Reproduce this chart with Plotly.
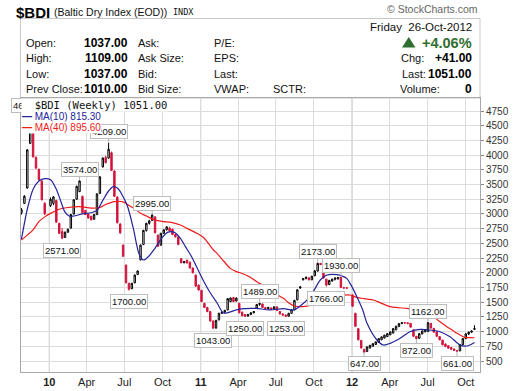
import numpy as np
import pandas as pd
import plotly.graph_objects as go

# ---------------- data ----------------
FIRST_WEEK = "2009-10-26"
LAST_WEEK = "2012-10-22"
HOLIDAY_WEEKS = ["2009-12-28", "2011-12-26"]

open_ = [3020, 3180, 3440, 4200, 4450, 3960, 3760, 3560, 3180,
         3140, 3180, 3230, 2840, 2700, 2600, 2690, 2760, 3000, 3250, 3380, 3300, 3060, 3000, 2960, 2910,
         2990, 3350, 3800, 3960, 3950, 4040, 3730, 3290, 2830, 2470, 2130, 1820, 1730, 1830, 1970, 2220,
         2480, 2720, 2840, 2890, 2950, 2640, 2470, 2670, 2730, 2760, 2740, 2650, 2610, 2240, 2170, 2215,
         2180, 2080, 1960, 1790,
         1700, 1480, 1410, 1340, 1180, 1060, 1200, 1310, 1330, 1370, 1510, 1580, 1520, 1480, 1330, 1290,
         1265, 1290, 1320, 1400, 1460, 1470, 1410, 1390, 1400, 1385, 1420, 1340, 1300, 1280, 1260, 1310,
         1370, 1540, 1740, 1880, 1900, 1910, 1880, 1950, 2030, 2160, 2100, 1890, 1800, 1860, 1890, 1900,
         1925, 1740, 1745,
         1624, 1310, 1050, 850, 700, 660, 720, 750, 780, 815, 860, 890, 915, 945, 975, 1030, 1085, 1135,
         1155, 1150, 1140, 1030, 920, 885, 960, 995, 1000, 1140, 1055, 995, 915, 855, 790, 760, 730, 705,
         680, 672, 780, 880, 960, 990, 1037]
high = [3100, 3320, 4100, 4661, 4480, 3980, 3770, 3570, 3200,
        3280, 3300, 3240, 2850, 2760, 2700, 2750, 3000, 3250, 3480, 3574, 3310, 3070, 3010, 2970, 3000,
        3350, 3640, 3960, 3990, 4209, 4060, 3740, 3300, 2840, 2480, 2140, 1830, 1830, 1970, 2040, 2480,
        2730, 2850, 2900, 2995, 2960, 2650, 2680, 2740, 2790, 2780, 2750, 2660, 2620, 2250, 2200, 2220,
        2190, 2090, 1970, 1800,
        1710, 1490, 1420, 1345, 1190, 1200, 1320, 1340, 1370, 1570, 1580, 1590, 1580, 1490, 1340, 1300,
        1300, 1330, 1345, 1470, 1489, 1475, 1420, 1420, 1410, 1430, 1430, 1350, 1310, 1290, 1320, 1380,
        1540, 1720, 1770, 1910, 1940, 1930, 1950, 2050, 2173, 2165, 2110, 1900, 1880, 1900, 1920, 1925,
        1930, 1760, 1750,
        1630, 1320, 1060, 855, 705, 745, 775, 800, 830, 890, 915, 945, 975, 1000, 1060, 1100, 1145, 1160,
        1160, 1155, 1145, 1035, 925, 975, 1020, 1040, 1162, 1145, 1060, 1000, 920, 860, 795, 765, 735, 710,
        685, 790, 890, 975, 1000, 1020, 1109]
low = [2990, 3170, 3430, 4190, 3960, 3760, 3570, 3230, 2980,
       3120, 3150, 2850, 2660, 2571, 2590, 2680, 2750, 2990, 3240, 3370, 3010, 2980, 2920, 2890, 2900,
       2980, 3340, 3790, 3860, 3940, 3730, 3290, 2840, 2660, 2270, 1820, 1700, 1720, 1820, 1960, 2210,
       2470, 2700, 2820, 2880, 2670, 2440, 2460, 2660, 2720, 2700, 2640, 2600, 2470, 2160, 2160, 2160,
       2075, 1990, 1760, 1700,
       1500, 1400, 1330, 1170, 1043, 1050, 1190, 1300, 1320, 1360, 1500, 1500, 1510, 1310, 1260, 1250,
       1255, 1280, 1310, 1390, 1440, 1400, 1380, 1380, 1370, 1380, 1350, 1290, 1270, 1253, 1255, 1300,
       1360, 1530, 1730, 1870, 1890, 1870, 1875, 1940, 2020, 2130, 1900, 1766, 1790, 1850, 1870, 1880,
       1740, 1730, 1730,
       1420, 1080, 850, 715, 647, 655, 715, 745, 775, 810, 855, 885, 910, 940, 970, 1025, 1080, 1130,
       1140, 1130, 1070, 910, 872, 880, 955, 990, 995, 1050, 980, 910, 855, 770, 740, 712, 695, 675,
       661, 668, 770, 875, 940, 980, 1037]
close = [3070, 3300, 4090, 4520, 3970, 3780, 3580, 3240, 3005,
         3250, 3290, 2860, 2670, 2590, 2690, 2740, 2990, 3240, 3470, 3560, 3020, 2990, 2930, 2900, 2990,
         3340, 3630, 3950, 3870, 4100, 3740, 3300, 2850, 2680, 2280, 1830, 1720, 1820, 1960, 2030, 2470,
         2720, 2840, 2880, 2980, 2680, 2450, 2670, 2730, 2780, 2710, 2650, 2610, 2480, 2170, 2190, 2165,
         2080, 2000, 1773, 1707,
         1510, 1410, 1340, 1180, 1060, 1190, 1310, 1330, 1360, 1560, 1570, 1510, 1570, 1320, 1270, 1260,
         1290, 1320, 1340, 1460, 1480, 1410, 1390, 1410, 1380, 1420, 1360, 1300, 1280, 1260, 1310, 1370,
         1530, 1710, 1760, 1900, 1920, 1880, 1940, 2030, 2160, 2140, 1910, 1790, 1870, 1890, 1910, 1920,
         1750, 1745, 1738,
         1430, 1090, 860, 720, 650, 740, 765, 795, 825, 880, 910, 940, 965, 995, 1050, 1090, 1135, 1150,
         1145, 1135, 1075, 920, 880, 965, 1010, 1035, 1150, 1060, 990, 920, 860, 775, 745, 718, 700, 680,
         665, 780, 880, 960, 990, 1010, 1051]

# moving averages (weeks since first bar, value)
ma10_week = [0, 2, 4, 6, 8, 10, 12, 13.5, 15, 16.5, 18, 21, 24, 26, 28, 30, 31.6, 33, 34.5, 36.5, 38.5,
             40.5, 42, 44, 46, 48.5, 50.5, 52.5, 54.5, 56.5, 58.5, 60.5, 62.7, 65, 67.3, 69.6, 71.9, 74,
             76.5, 79, 81, 85.6, 90.2, 93.7, 96, 99.4, 102.9, 105.2, 108.6, 110.6, 112, 113.5, 115.5,
             117.5, 119, 122.4, 124.6, 127, 130.4, 133.8, 137.3, 140.7, 144.1, 147.6, 151, 153.4, 156]
ma10_val = [2570, 3080, 3420, 3560, 3600, 3580, 3420, 3220, 3030, 2960, 2965, 3000, 3020, 3060, 3230,
            3390, 3465, 3440, 3340, 3130, 2760, 2320, 2217, 2290, 2420, 2600, 2690, 2690, 2600, 2440,
            2280, 2080, 1860, 1660, 1490, 1315, 1335, 1370, 1390, 1395, 1395, 1368, 1392, 1367, 1435,
            1593, 1877, 1962, 1968, 1940, 1905, 1790, 1594, 1370, 1140, 857, 772, 800, 885, 998, 1038,
            1027, 998, 913, 772, 755, 815.3]
ma40_week = [0, 2, 4, 6, 8, 10, 13, 16, 20, 24, 27, 29, 32, 35, 37.5, 39.5, 41, 43.2, 45.5, 48.9, 51.2,
             54.7, 57, 60.4, 62.7, 66.1, 67.3, 69.6, 71.9, 74, 76.5, 78.8, 81, 83.3, 85.6, 88, 90.2, 92,
             93.7, 95.5, 97.1, 99.4, 101.7, 104, 106.3, 109.7, 113.2, 115.5, 118, 121.2, 124, 127, 130,
             132.7, 135.5, 138.4, 140.2, 141.9, 144, 146.5, 148.2, 150, 151.5, 152.8, 154.4, 156]
ma40_val = [2557, 2640, 2730, 2870, 2950, 3010, 3080, 3110, 3125, 3100, 3110, 3160, 3210, 3205, 3130,
            3070, 3010, 2960, 2905, 2869, 2860, 2812, 2755, 2670, 2600, 2387, 2330, 2200, 2075, 2020,
            1980, 1922, 1849, 1780, 1707, 1630, 1565, 1490, 1440, 1425, 1424, 1445, 1480, 1525, 1565,
            1612, 1622, 1582, 1560, 1537, 1480, 1424, 1405, 1395, 1370, 1338, 1300, 1254, 1170, 1084,
            1030, 970, 930, 902, 898, 895.6]

# labelled highs / lows
label_week = ["2009-11-16", "2010-02-01", "2010-03-15", "2010-05-24", "2010-07-12", "2010-09-06",
              "2011-01-31", "2011-04-18", "2011-05-23", "2011-07-25", "2011-10-10", "2011-10-31",
              "2011-12-05", "2012-01-30", "2012-06-04", "2012-07-02", "2012-09-10"]
label_side = ["H", "L", "H", "H", "L", "H", "L", "L", "H", "L", "H", "L", "H", "L", "L", "H", "L"]

x_tickvals = ["2010-01-01", "2010-04-01", "2010-07-01", "2010-10-01", "2011-01-01", "2011-04-01",
              "2011-07-01", "2011-10-01", "2012-01-01", "2012-04-01", "2012-07-01", "2012-10-01"]
x_ticktext = ["<b>10</b>", "Apr", "Jul", "Oct", "<b>11</b>", "Apr", "Jul", "Oct", "<b>12</b>", "Apr",
              "Jul", "Oct"]
year_lines = ["2010-01-01", "2011-01-01", "2012-01-01"]
y_tickvals = [500, 750, 1000, 1250, 1500, 1750, 2000, 2250, 2500, 2750, 3000, 3250, 3500, 3750, 4000,
              4250, 4500, 4750]

# ---------------- build ----------------
weeks = pd.date_range(FIRST_WEEK, LAST_WEEK, freq="7D")
weeks = weeks[~weeks.isin(pd.to_datetime(HOLIDAY_WEEKS))]
assert len(weeks) == len(open_) == len(high) == len(low) == len(close)
df = pd.DataFrame(dict(d=weeks, o=open_, h=high, l=low, c=close))
prev = df.c.shift(1).fillna(df.o)
up = df.c >= prev

FONT = "Liberation Sans"
RED = "#d3143c"
W, H = 519, 391
L, R, T, B = 21, 39, 98, 19
PW, PH = W - L - R, H - T - B


def xp(px):
    return (px - L) / PW


def yp(py):
    return (H - B - py) / PH


fig = go.Figure()
for mask, col in [(~up, RED), (up, "#000000")]:
    d = df[mask]
    fig.add_trace(go.Candlestick(
        x=d.d, open=d.o, high=d.h, low=d.l, close=d.c,
        increasing=dict(line=dict(color=col, width=1), fillcolor="white"),
        decreasing=dict(line=dict(color=col, width=1), fillcolor=col),
        whiskerwidth=0, hoverinfo="skip", showlegend=False))

t0 = pd.Timestamp(FIRST_WEEK)
for wk, val, col in [(ma40_week, ma40_val, "#f01a1a"), (ma10_week, ma10_val, "#23239a")]:
    xs = t0 + pd.to_timedelta(np.array(wk) * 7, unit="D")
    fig.add_trace(go.Scatter(x=xs, y=val, mode="lines", hoverinfo="skip", showlegend=False,
                             line=dict(color=col, width=1.2, shape="spline", smoothing=0.8)))

ann = []
# high / low labels
for wk, side in zip(label_week, label_side):
    i = int(np.where(df.d == pd.Timestamp(wk))[0][0])
    val = df.h[i] if side == "H" else df.l[i]
    ann.append(dict(x=df.d[i], y=val, xref="x", yref="y", text=f"{val:.2f}", showarrow=True,
                    arrowhead=0, arrowwidth=1, arrowcolor="#b4b4b4", ax=0,
                    ay=-11 if side == "H" else 11.5, bgcolor="white", bordercolor="#bdbdbd",
                    borderwidth=1, borderpad=1, font=dict(family=FONT, size=9.5, color="#111")))

# in-chart legend
ann.append(dict(x=xp(21), y=yp(105), xref="paper", yref="paper", xanchor="left", yanchor="middle",
                showarrow=False, bgcolor="white", borderpad=0,
                text="\u00a0\u00a0$BDI (Weekly) %.2f" % close[-1],
                font=dict(family="DejaVu Sans Mono", size=10.5, color="#111")))
ann.append(dict(x=xp(21), y=yp(116), xref="paper", yref="paper", xanchor="left", yanchor="middle",
                showarrow=False, bgcolor="white", borderpad=0,
                text="<b>\u2014</b> MA(10) %.2f" % ma10_val[-1],
                font=dict(family=FONT, size=10, color="#23239a")))
ann.append(dict(x=xp(21), y=yp(127), xref="paper", yref="paper", xanchor="left", yanchor="middle",
                showarrow=False, bgcolor="white", borderpad=0,
                text="<b>\u2014</b> MA(40) %.2f" % ma40_val[-1],
                font=dict(family=FONT, size=10, color="#f01a1a")))


def txt(x, y, s, anchor="left", size=11, bold=False, color="#111", family=FONT):
    ann.append(dict(x=xp(x), y=yp(y), xref="paper", yref="paper", xanchor=anchor, yanchor="middle",
                    showarrow=False, text=("<b>%s</b>" % s) if bold else s,
                    font=dict(family=family, size=size, color=color)))


# header
txt(14, 12, "$BDI", size=15, bold=True, color="#000")
txt(52, 12, "(Baltic Dry Index (EOD))", size=10.5)
txt(171, 12.5, "INDX", size=8.5, family="DejaVu Sans Mono")
txt(480, 9, "\u00a9 StockCharts.com", anchor="right", size=10.5, color="#666")

prev_close = close[-2]
chg = close[-1] - prev_close
pct = chg / prev_close * 100
rows_y = [42.5, 58, 73.5, 89]
left_labels = ["Open:", "High:", "Low:", "Prev Close:"]
left_vals = [open_[-1], high[-1], low[-1], prev_close]
mid_labels = ["Ask:", "Ask Size:", "Bid:", "Bid Size:"]
col3_labels = ["P/E:", "EPS:", "Last:", "VWAP:"]
for yy, a, v, m, c3 in zip(rows_y, left_labels, left_vals, mid_labels, col3_labels):
    txt(24, yy, a)
    txt(130, yy, "%.2f" % v, anchor="right", size=12, bold=True, color="#000")
    txt(136, yy, m)
    txt(212, yy, c3)
txt(271, rows_y[3], "SCTR:")

txt(474, 27, "Friday\u00a0\u00a026-Oct-2012", anchor="right", size=11.5)
txt(474, 42.5, "%+.2f%%" % pct, anchor="right", size=14.5, bold=True, color="#2f6e30")
txt(399, 58, "Chg:")
txt(474, 58, "%+.2f" % chg, anchor="right", size=12, bold=True, color="#000")
txt(400, 73.5, "Last:")
txt(474, 73.5, "%.2f" % close[-1], anchor="right", size=12, bold=True, color="#000")
txt(398, 89, "Volume:")
txt(474, 89, "0", anchor="right", size=12, bold=True, color="#000")

shapes = [
    dict(type="rect", xref="paper", yref="paper", x0=xp(20.5), x1=xp(480), y0=yp(98), y1=yp(18.5),
         line=dict(color="#c8c8c8", width=1), fillcolor="rgba(0,0,0,0)", layer="below"),
    dict(type="path", xref="paper", yref="paper",
         path="M %f,%f L %f,%f L %f,%f Z" % (xp(402), yp(47.5), xp(415.5), yp(47.5), xp(408.75), yp(37)),
         fillcolor="#2f6e30", line=dict(width=0)),
]
for yl in year_lines:
    shapes.append(dict(type="line", xref="x", yref="paper", x0=yl, x1=yl, y0=0, y1=1,
                       line=dict(color="#b4b4b4", width=1), layer="below"))

fig.update_layout(
    width=W, height=H, margin=dict(l=L, r=R, t=T, b=B, autoexpand=False),
    paper_bgcolor="white", plot_bgcolor="white",
    font=dict(family=FONT, color="#222"),
    showlegend=False, annotations=ann, shapes=shapes,
    xaxis=dict(type="date", range=["2009-10-24 20:00", "2012-11-04 08:00"],
               tickvals=x_tickvals, ticktext=x_ticktext, ticks="", showgrid=True,
               gridcolor="#dcdcdc", gridwidth=1, showline=True, linecolor="#a8a8a8", mirror=True,
               tickfont=dict(size=11, color="#222"), rangeslider=dict(visible=False),
               zeroline=False, fixedrange=True),
    yaxis=dict(side="right", range=[313, 4971], tickvals=y_tickvals, ticks="outside", ticklen=3,
               tickcolor="#888", showgrid=True, gridcolor="#dcdcdc", gridwidth=1, showline=True,
               linecolor="#a8a8a8", mirror=True, tickfont=dict(size=10, color="#333"),
               zeroline=False, fixedrange=True),
)
fig.write_html("out.html", config={"staticPlot": True},
               post_script="document.body.style.margin='0px';document.body.style.overflow='hidden';")
